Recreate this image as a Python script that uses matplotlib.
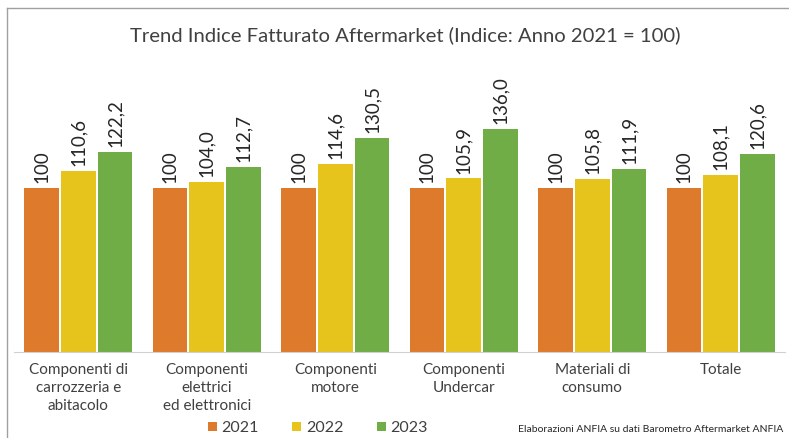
import matplotlib.pyplot as plt
import numpy as np
from matplotlib.lines import Line2D

# dati del grafico
categorie = ["Componenti di\ncarrozzeria e\nabitacolo", "Componenti\nelettrici\ned elettronici",
             "Componenti\nmotore", "Componenti\nUndercar", "Materiali di\nconsumo", "Totale"]
anni = ["2021", "2022", "2023"]
v2021 = [100, 100, 100, 100, 100, 100]
v2022 = [110.6, 104.0, 114.6, 105.9, 105.8, 108.1]
v2023 = [122.2, 112.7, 130.5, 136.0, 111.9, 120.6]
colori = ["#DE7A2B", "#E6C41C", "#70AD47"]

plt.rcParams['font.family'] = ['Lato', 'DejaVu Sans']
grigio = "#404040"

fig = plt.figure(figsize=(7.89, 4.38), dpi=100)
ax = fig.add_axes([14/789, 86/438, 771/789, 295/438])

x = np.arange(len(categorie))
w = 0.285
serie = [v2021, v2022, v2023]
for i in range(3):
    pos = x + (i - 1) * w
    barre = ax.bar(pos, serie[i], width=w - 0.016, color=colori[i], label=anni[i])
    for b, v in zip(barre, serie[i]):
        if v == 100:
            testo = "100"
        else:
            testo = f"{v:.1f}".replace(".", ",")
        ax.text(b.get_x() + b.get_width() / 2, v + 3, testo, rotation=90,
                ha="center", va="bottom", fontsize=13.5, color="#262626", clip_on=False)

ax.set_xlim(-0.5, len(categorie) - 0.5)
ax.set_ylim(0, 180)
ax.set_yticks([])
ax.set_xticks(x)
ax.set_xticklabels(categorie, fontsize=11, color=grigio, linespacing=1.35)
ax.tick_params(axis="x", length=0, pad=8)
for s in ["top", "right", "left"]:
    ax.spines[s].set_visible(False)
ax.spines["bottom"].set_color("#D0D0D0")

fig.text(405/789, 1 - 35/438, "Trend Indice Fatturato Aftermarket (Indice: Anno 2021 = 100)",
         ha="center", va="center", fontsize=14.6, color=grigio)

ax.legend(loc="center", bbox_to_anchor=(318/789, 1 - 428/438), bbox_transform=fig.transFigure,
          ncol=3, frameon=False, fontsize=11.5, handlelength=0.55, handleheight=0.55,
          columnspacing=2.1, handletextpad=0.3, labelcolor=grigio, borderpad=0.1)

fig.text(783/789, 1 - 430/438, "Elaborazioni ANFIA su dati Barometro Aftermarket ANFIA",
         ha="right", va="center", fontsize=7.5, color="#262626")

# cornice
fig.add_artist(Line2D([7/789, 1], [1 - 8/438, 1 - 8/438], color="#A0A0A0", lw=1))
fig.add_artist(Line2D([7/789, 7/789], [0, 1 - 8/438], color="#A0A0A0", lw=1))

fig.savefig("out.png", dpi=100)
